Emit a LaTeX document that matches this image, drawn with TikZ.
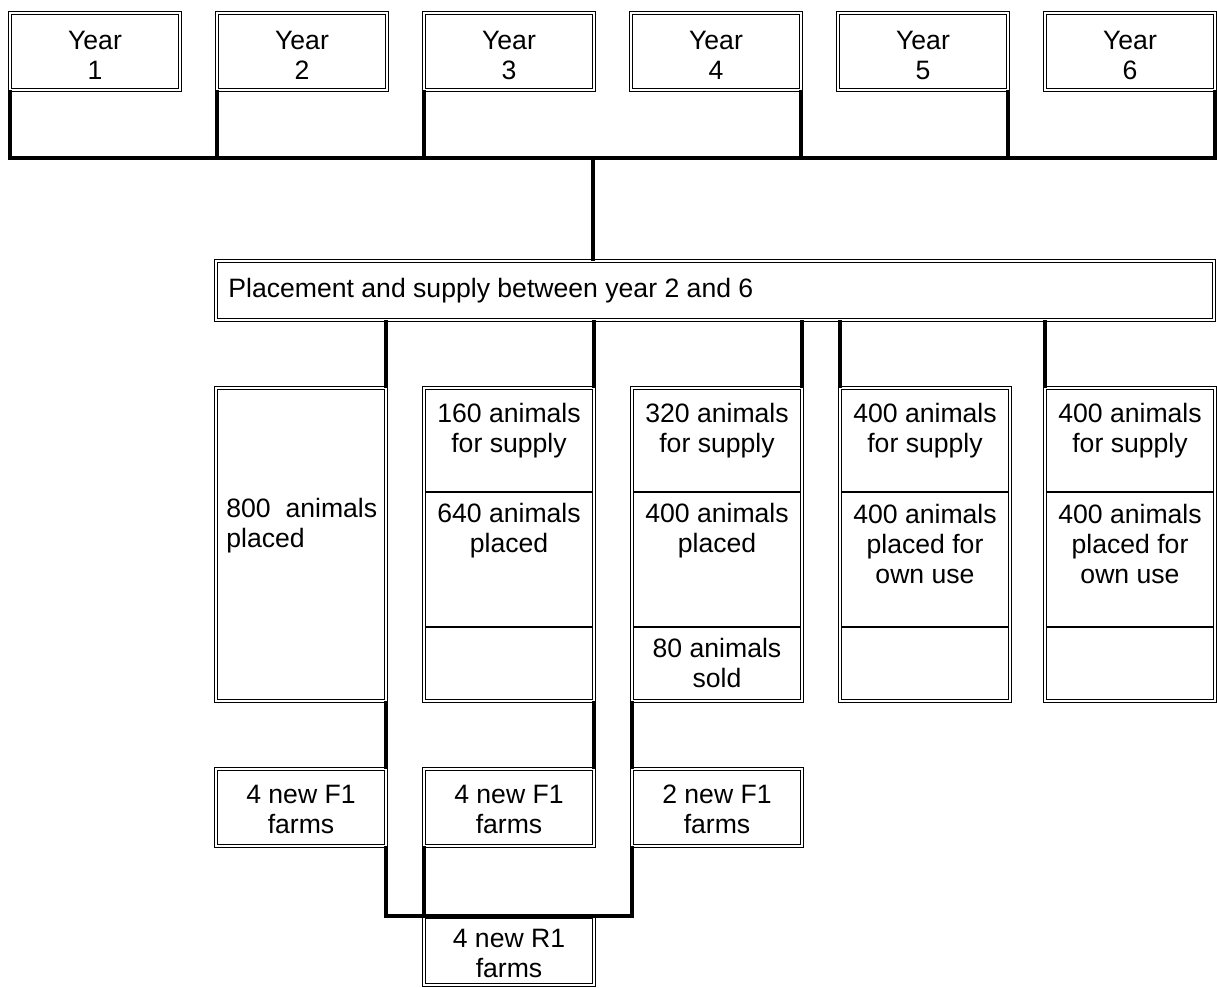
\documentclass[tikz,border=0pt]{standalone}
\usepackage{fontspec}
\setmainfont{Liberation Sans}
\begin{document}
\begin{tikzpicture}[x=0.5pt,y=-0.5pt,
  dbox/.style={draw=black, line width=0.45pt, double=white, double distance=1.1pt, inner sep=0pt, outer sep=0pt, minimum width=85pt},
  conn/.style={line width=2pt},
  divl/.style={line width=0.7pt, shorten <=0.8pt, shorten >=0.8pt},
  txt/.style={font=\fontsize{13.3}{15}\selectfont, inner sep=0pt, align=center, anchor=base},
  ltxt/.style={font=\fontsize{13.3}{15}\selectfont, inner sep=0pt, align=left, anchor=base west},
]
\useasboundingbox (0,0) rectangle (1217,987);

% year boxes (text anchored at the baseline of the last line)
\foreach \i in {1,...,6}{
  \node[dbox, minimum height=38.5pt] (y\i) at ({95+207*(\i-1)},51.5) {};
  \node[txt] (y\i t) at ({95+207*(\i-1)},79) {Year\\\i};
}
\coordinate (bus) at (0,158);
\draw[conn] (y1.south west) |- (bus -| y6.south east) -- (y6.south east);
\foreach \n in {y2,y3} \draw[conn] (\n.south west) -- (\n.south west |- bus);
\foreach \n in {y4,y5} \draw[conn] (\n.south east) -- (\n.south east |- bus);

% placement
\node[dbox, minimum width=499pt, minimum height=29.5pt] (pl) at (715,290.5) {};
\node[ltxt] (plt) at (228,297) {Placement and supply between year 2 and 6};
\coordinate (hub) at (593,158);
\draw[conn] (hub) -- (hub |- pl.north);

% columns
\node[dbox, minimum height=156.5pt] (c1) at (301,544.5) {};
\node[dbox, minimum height=156.5pt] (c2) at (509,544.5) {};
\node[dbox, minimum height=156.5pt] (c3) at (717,544.5) {};
\node[dbox, minimum height=156.5pt] (c4) at (925,544.5) {};
\node[dbox, minimum height=156.5pt] (c5) at (1130,544.5) {};
\coordinate (d1) at (0,492);
\coordinate (d2) at (0,627);
\foreach \n in {c2,c3,c4,c5}{
  \draw[divl] (\n.west |- d1) -- (\n.east |- d1);
  \draw[divl] (\n.west |- d2) -- (\n.east |- d2);
}
\foreach \n in {c1,c2,c3} \draw[conn] (\n.north east) -- (\n.north east |- pl.south);
\foreach \n in {c4,c5} \draw[conn] (\n.north west) -- (\n.north west |- pl.south);

\node[ltxt] (c1t) at (226,547) {800\ \ animals\\placed};
\node[txt] (c2a) at (509,452) {160 animals\\for supply};
\node[txt] (c2b) at (509,552) {640 animals\\placed};
\node[txt] (c3a) at (717,452) {320 animals\\for supply};
\node[txt] (c3b) at (717,552) {400 animals\\placed};
\node[txt] (c3c) at (717,687) {80 animals\\sold};
\node[txt] (c4a) at (925,452) {400 animals\\for supply};
\node[txt] (c4b) at (925,583) {400 animals\\placed for\\own use};
\node[txt] (c5a) at (1130,452) {400 animals\\for supply};
\node[txt] (c5b) at (1130,583) {400 animals\\placed for\\own use};

% F1 farms
\node[dbox, minimum height=38.5pt] (f1) at (301,807.5) {};
\node[dbox, minimum height=38.5pt] (f2) at (509,807.5) {};
\node[dbox, minimum height=38.5pt] (f3) at (717,807.5) {};
\node[txt] (f1t) at (301,833) {4 new F1\\farms};
\node[txt] (f2t) at (509,833) {4 new F1\\farms};
\node[txt] (f3t) at (717,833) {2 new F1\\farms};
\draw[conn] (c1.south east) -- (f1.north east);
\draw[conn] (c2.south east) -- (f2.north east);
\draw[conn] (c3.south west) -- (f3.north west);

% R1 farms
\node[dbox, minimum height=34pt] (r1) at (509,951) {};
\node[txt] (r1t) at (509,977) {4 new R1\\farms};
\coordinate (low) at (0,916);
\draw[conn] (f1.south east) |- (low -| f3.south west) -- (f3.south west);
\draw[conn] (f2.south west) -- (f2.south west |- low);
\end{tikzpicture}
\end{document}
